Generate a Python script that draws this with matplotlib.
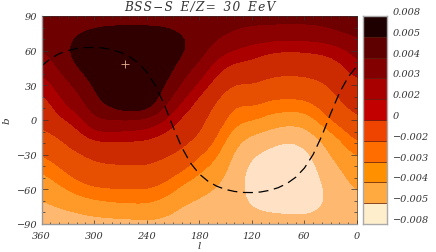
import matplotlib
matplotlib.use("Agg")
import matplotlib.pyplot as plt
import numpy as np
from matplotlib.colors import BoundaryNorm, ListedColormap
from matplotlib.ticker import MultipleLocator

plt.rcParams["font.family"] = ["DejaVu Serif"]
plt.rcParams["font.style"] = "italic"

LEVELS = [-8, -5, -4, -3, -2, 0, 2, 3, 4, 5, 8]
LEVEL_LABELS = ["\u22120.008", "\u22120.005", "\u22120.004", "\u22120.003", "\u22120.002",
                "0", "0.002", "0.003", "0.004", "0.005", "0.008"]
BAND_COLORS = ["#ffe2c6", "#ffb870", "#ff9a28", "#ff7500", "#e65000",
               "#cc2a00", "#aa0000", "#8b0000", "#6e0000", "#300000"]
# the colorbar is a little more saturated than the map
BAR_COLORS = ["#ffeecc", "#ffaa40", "#ff9000", "#ff6d00", "#ee4400",
              "#c20000", "#a80000", "#830000", "#5e0000", "#1e0000"]

LON = [360, 340, 320, 300, 280, 260, 240, 220, 200, 180, 160, 140, 120, 100, 80, 60, 40, 20, 0]
LAT = [90, 75, 60, 45, 30, 15, 0, -15, -30, -45, -60, -75, -90]

# one row per longitude, values in units of 1e-3, lat from +90 to -90
FIELD = [
    [4.3, 4.15, 4.0, 3.3, 2.4, 1.4, 0.45, -0.7, -2.05, -3.1, -3.65, -4.2, -4.6],
    [4.3, 4.5, 4.6, 4.15, 3.5, 2.9, 2.0, 0.0, -1.1, -2.3, -3.3, -3.95, -4.5],
    [4.3, 5.0, 5.5, 5.05, 4.2, 3.6, 2.6, 1.6, -0.3, -1.4, -2.6, -3.8, -4.4],
    [4.4, 5.3, 5.9, 5.7, 5.2, 4.8, 4.0, 2.6, 0.5, -0.7, -2.2, -3.5, -4.4],
    [4.4, 5.5, 6.2, 6.2, 5.8, 5.5, 4.0, 2.6, 0.7, -0.5, -2.1, -3.3, -4.4],
    [4.4, 5.5, 6.3, 6.5, 6.4, 6.4, 3.9, 2.55, 0.6, -0.35, -2.1, -3.2, -4.4],
    [4.4, 5.5, 6.3, 6.4, 6.0, 6.0, 3.8, 2.35, 0.7, -0.3, -2.1, -3.15, -4.3],
    [4.4, 5.4, 6.0, 5.6, 5.05, 4.3, 3.2, 1.65, 0.4, -1.2, -2.5, -3.5, -4.35],
    [4.3, 5.0, 5.2, 4.5, 3.9, 3.05, 1.7, 1.0, -0.4, -2.2, -3.3, -4.1, -4.45],
    [4.3, 4.7, 4.5, 3.75, 2.9, 1.6, 0.8, -0.1, -2.1, -3.0, -3.7, -4.3, -4.5],
    [4.3, 4.3, 3.5, 2.45, 1.4, -0.15, -1.3, -2.3, -2.9, -3.5, -4.1, -4.5, -4.6],
    [4.3, 4.0, 3.0, 1.6, -0.2, -2.1, -2.75, -3.6, -4.2, -4.5, -4.6, -4.7, -4.7],
    [4.3, 3.8, 2.6, 1.5, 0.0, -1.7, -2.9, -4.2, -4.95, -5.4, -5.4, -5.0, -4.7],
    [4.3, 3.8, 2.2, 0.85, -0.7, -2.3, -3.4, -4.5, -5.3, -5.7, -5.7, -5.2, -4.6],
    [4.3, 3.7, 2.05, 0.65, -0.8, -2.35, -3.6, -4.85, -5.6, -5.9, -5.95, -5.3, -4.6],
    [4.3, 3.75, 2.15, 0.75, -0.7, -2.3, -3.6, -4.55, -5.3, -5.7, -5.8, -5.35, -4.6],
    [4.3, 3.85, 2.3, 1.0, -0.2, -1.4, -2.6, -3.75, -4.3, -4.7, -5.0, -5.0, -4.6],
    [4.3, 4.15, 2.7, 1.7, 0.85, 0.0, -1.3, -3.05, -3.55, -4.1, -4.5, -4.7, -4.6],
    [4.3, 4.3, 3.5, 2.9, 1.6, 1.0, -0.1, -1.5, -3.0, -3.3, -3.9, -4.3, -4.6],
]

EQUATOR_LON = [360, 350, 340, 330, 320, 310, 300, 290, 280, 270, 260, 250, 240, 230, 220, 210, 200, 190,
               180, 170, 160, 150, 140, 130, 120, 110, 100, 90, 80, 70, 60, 50, 40, 30, 20, 10, 0]
EQUATOR_LAT = [46.7, 53, 57.3, 60.1, 61.8, 62.7, 62.8, 62.3, 60.9, 58.6, 55, 49.6, 41.6, 29.8, 13.5, -5.7, -23.6, -37.2,
               -46.7, -53, -57.3, -60.1, -61.8, -62.7, -62.8, -62.3, -60.9, -58.6, -55, -49.6, -41.6, -29.8, -13.5, 5.7, 23.6, 37.2, 46.7]

SOURCE_LON = 265
SOURCE_LAT = 48.5

W, H = 436, 253
TEXT_COLOR = "#333333"
figure = plt.figure(figsize=(W / 100, H / 100), dpi=100)
axis = figure.add_axes([41.5 / W, 1 - 225 / H, 315.5 / W, 208 / H])
cax = figure.add_axes([363 / W, 1 - 225 / H, 24 / W, 208 / H])

field = np.array(FIELD).T
lon_step = abs(LON[1] - LON[0]) / 2
lat_step = abs(LAT[1] - LAT[0]) / 2
axis.imshow(
    field,
    extent=(LON[0] + lon_step, LON[-1] - lon_step, LAT[-1] - lat_step, LAT[0] + lat_step),
    origin="upper",
    aspect="auto",
    cmap=ListedColormap(BAND_COLORS),
    norm=BoundaryNorm(LEVELS, len(BAND_COLORS)),
    interpolation="bicubic",
    interpolation_stage="data",
)
axis.plot(EQUATOR_LON, EQUATOR_LAT, color="black", linewidth=0.9, dashes=(8, 4.5))
axis.plot(SOURCE_LON, SOURCE_LAT, marker="+", color="#e8b090", markersize=6, markeredgewidth=0.6)

axis.set_xlim(360, 0)
axis.set_ylim(-90, 90)
axis.xaxis.set_major_locator(MultipleLocator(60))
axis.xaxis.set_minor_locator(MultipleLocator(10))
axis.yaxis.set_major_locator(MultipleLocator(30))
axis.yaxis.set_minor_locator(MultipleLocator(10))
axis.tick_params(which="major", axis="x", length=3, width=0.5, top=True, direction="in",
                 labelsize=7, colors=TEXT_COLOR, pad=5)
axis.tick_params(which="minor", axis="x", length=1.5, width=0.5, top=True, direction="in", colors=TEXT_COLOR)
axis.tick_params(which="major", axis="y", length=4, width=0.5, right=True, direction="in",
                 labelsize=7, colors=TEXT_COLOR, pad=3)
axis.tick_params(which="minor", axis="y", length=2.5, width=0.5, right=True, direction="in", colors=TEXT_COLOR)
for side, spine in axis.spines.items():
    spine.set_color("#999999" if side in ("left", "bottom") else "#333333")
    spine.set_linewidth(1.0 if side in ("left", "bottom") else 0.4)

figure.text(199 / W, 1 - 247 / H, "l", fontsize=7.5, ha="center", va="center", color=TEXT_COLOR)
figure.text(7 / W, 1 - 121 / H, "b", fontsize=7.5, ha="center", va="center", rotation=90, color=TEXT_COLOR)
spaced_title = "  ".join("\u200a".join(word) for word in ["BSS\u2212S", "E/Z=", "30", "EeV"])
figure.text(199.5 / W, 1 - 7.5 / H, spaced_title, fontsize=8.7, ha="center", va="center", color=TEXT_COLOR)

# bands of the colorbar have equal height, whatever the level step
for band, color in enumerate(BAR_COLORS):
    cax.barh(band, 1, height=1, left=0, align="edge", color=color, edgecolor="#5a1000", linewidth=0.4)
cax.set_xlim(0, 1)
cax.set_ylim(0, len(BAR_COLORS))
cax.set_xticks([])
cax.yaxis.tick_right()
cax.set_yticks(range(len(LEVEL_LABELS)))
cax.set_yticklabels(LEVEL_LABELS, fontsize=7, va="bottom", color=TEXT_COLOR)
cax.tick_params(axis="y", length=0, pad=4)
for spine in cax.spines.values():
    spine.set_color("#aaaaaa")
    spine.set_linewidth(1.0)

figure.savefig("out.png", dpi=100)
plt.close(figure)
